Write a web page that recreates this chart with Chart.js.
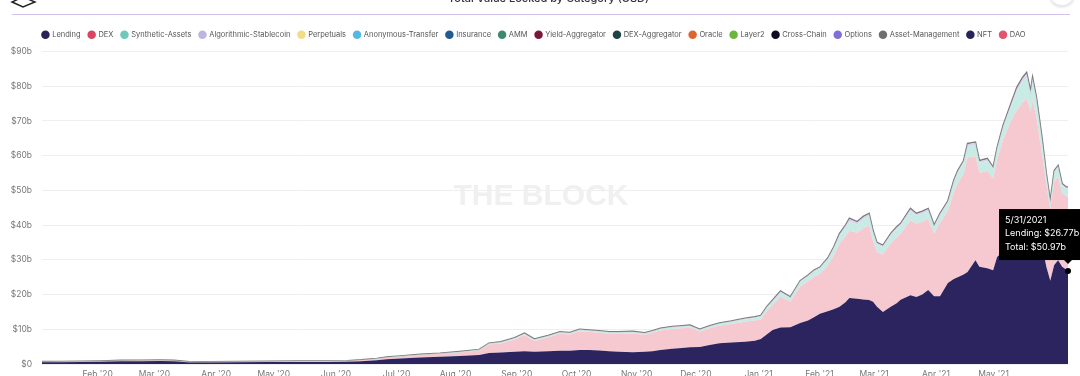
<!DOCTYPE html>
<html>
<head>
<meta charset="utf-8">
<script src="https://cdn.jsdelivr.net/npm/chart.js@4.4.0/dist/chart.umd.min.js"></script>
<style>
  html, body { margin: 0; padding: 0; background: #fff; overflow: hidden; }
  #wrap { position: relative; width: 1080px; height: 376px; overflow: hidden; }
  #chart { position: absolute; left: 0; top: 0; }
  .title { position: absolute; top: -9px; left: 0; width: 1097px; text-align: center;
           font: 500 11px Inter, sans-serif; color: #333; white-space: nowrap; }
  .rule { position: absolute; left: 12px; top: 14px; width: 1058px; height: 1px; background: #d2c2ee; }
  .logo { position: absolute; left: 0; top: 0; }
  .menu { position: absolute; left: 1049px; top: -20px; width: 24px; height: 24px; border-radius: 50%;
          background: #fff; border: 1px solid #ececec; box-shadow: 0 1px 3px rgba(0,0,0,0.15); }
</style>
</head>
<body>
<div id="wrap">
  <canvas id="chart" width="1080" height="392"></canvas>
  <div class="title">Total Value Locked by Category (USD)</div>
  <div class="rule"></div>
  <svg class="logo" width="40" height="12" viewBox="0 0 40 12">
    <polygon points="12,2 23,7 35,2 23,-3" fill="none" stroke="#222" stroke-width="1.4"/>
  </svg>
  <div class="menu"></div>
</div>
<script>
// days since 1 Jan 2020
const days = [-5,5,15,25,35,45,55,62,70,72,80,95,110,125,140,150,157,165,170,177,
  187,197,207,217,222,228,235,240,245,252,258,263,268,273,278,283,288,295,301,305,
  309,315,320,324,329,334,339,345,352,357,360,363,366,370,375,380,384,387,390,394,
  397,400,403,405,409,412,415,417,419,422,426,429,431,436,439,442,445,448,451,455,
  458,460,463,465,469,471,475,478,480,483,487,490,493,495,497,498,500,503,505,507,
  509,511,513,515,516];

// values in $b
const lending = [.52,.54,.58,.66,.78,.82,.85,.78,.45,.42,
  .45,.50,.55,.58,.60,.62,.80,1.10,1.40,1.60,
  1.90,2.10,2.30,2.60,3.20,3.30,3.50,3.70,3.50,3.70,
  3.80,3.80,4.00,4.00,3.90,3.70,3.50,3.40,3.50,3.70,
  4.00,4.40,4.60,4.80,4.90,5.50,6.00,6.20,6.40,6.70,
  7.20,8.50,9.80,10.5,10.6,11.8,12.5,13.5,14.5,15.2,
  15.8,16.5,17.8,19.0,18.8,18.6,18.4,17.9,16.5,15.0,
  16.5,17.5,18.5,19.8,19.3,20.0,21.3,19.5,19.5,23.3,
  24.5,25.0,25.8,26.5,29.9,28.0,27.6,27.0,30.8,32.5,
  35.0,37.0,38.5,40.0,42.3,41.5,40.5,33.7,28.0,24.0,
  28.5,29.9,28.0,27.2,26.77];

const dex = [.10,.10,.12,.14,.16,.17,.19,.17,.13,.12,
  .13,.14,.16,.18,.20,.22,.28,.36,.44,.52,
  .70,.78,1.04,1.30,2.42,2.63,3.58,4.60,3.15,3.95,
  4.92,4.72,5.40,5.20,5.12,5.02,5.22,5.40,4.92,5.30,
  5.66,5.70,5.68,5.64,4.44,4.78,5.00,5.32,5.78,5.80,
  5.64,6.70,7.20,8.90,7.40,10.5,11.3,11.6,11.5,13.1,
  15.4,18.1,19.0,19.4,19.0,20.5,21.5,17.5,15.7,16.6,
  18.3,19.0,19.0,21.6,21.1,21.0,20.5,18.1,21.2,20.8,
  25.0,27.0,29.0,33.0,30.0,27.0,28.0,26.4,28.0,32.0,
  35.0,36.0,36.8,36.6,30.4,34.5,30.5,26.0,23.8,20.5,
  24.0,24.0,21.2,21.1,21.47];

const synthetic = [.06,.06,.06,.08,.09,.09,.09,.08,.05,.05,
  .06,.07,.08,.08,.09,.10,.10,.12,.14,.15,
  .16,.18,.20,.22,.25,.28,.30,.32,.30,.32,
  .35,.36,.38,.38,.36,.36,.36,.38,.38,.40,
  .42,.46,.48,.52,.48,.52,.56,.62,.72,.78,
  .82,.94,1.05,1.20,1.00,1.30,1.40,1.50,1.50,1.70,
  1.90,2.30,2.40,2.60,2.40,2.60,2.70,2.40,2.20,2.00,
  2.20,2.30,2.30,2.60,2.30,2.30,2.30,1.90,2.10,2.30,
  2.70,2.90,3.00,3.20,3.20,2.90,2.90,2.60,2.90,3.40,
  4.00,5.50,6.00,6.00,5.00,5.50,4.80,3.80,2.50,2.00,
  2.60,2.70,2.30,2.20,2.23];

const algoStable = [0,0,0,0,0,0,0,0,0,0,
  0,0,0,0,0,0,0,0,0,0,
  .01,.01,.02,.03,.08,.12,.14,.18,.16,.15,
  .15,.14,.14,.14,.14,.14,.14,.14,.12,.12,
  .14,.16,.16,.16,.12,.14,.16,.18,.20,.22,
  .24,.26,.25,.28,.22,.30,.30,.30,.30,.40,
  .45,.50,.60,.70,.60,.60,.60,.50,.45,.45,
  .45,.50,.50,.60,.50,.50,.50,.35,.40,.40,
  .50,.60,.60,.60,.60,.50,.50,.50,.50,.60,
  .70,.80,.90,1.00,.70,.80,.70,.60,.40,.30,
  .40,.40,.30,.30,.30];

const assetMgmt = [.02,.02,.02,.02,.02,.02,.02,.02,.02,.01,
  .01,.01,.01,.01,.01,.01,.02,.02,.02,.03,
  .03,.03,.04,.05,.05,.07,.08,.10,.09,.08,
  .08,.08,.08,.08,.08,.08,.08,.08,.08,.08,
  .08,.08,.08,.08,.06,.06,.08,.08,.10,.10,
  .10,.10,.10,.12,.08,.10,.10,.10,.10,.10,
  .15,.20,.20,.30,.20,.20,.20,.20,.15,.15,
  .15,.20,.20,.20,.20,.20,.20,.15,.20,.20,
  .20,.20,.20,.20,.20,.20,.20,.20,.20,.20,
  .30,.40,.40,.40,.30,.30,.30,.30,.20,.20,
  .20,.20,.20,.20,.20];

const categories = ['Lending','DEX','Synthetic-Assets','Algorithmic-Stablecoin','Perpetuals',
  'Anonymous-Transfer','Insurance','AMM','Yield-Aggregator','DEX-Aggregator','Oracle','Layer2',
  'Cross-Chain','Options','Asset-Management','NFT','DAO'];

const monthLabels = ["Feb '20","Mar '20","Apr '20","May '20","Jun '20","Jul '20","Aug '20","Sep '20",
  "Oct '20","Nov '20","Dec '20","Jan '21","Feb '21","Mar '21","Apr '21","May '21"];

const DAY = 86400000;
const epoch = Date.UTC(2020, 0, 1);
const tickDays = monthLabels.map((_, i) => (Date.UTC(2020, 1 + i, 1) - epoch) / DAY);

const legendColors = ['#2a2357','#d9455f','#6fc8bc','#bdb5e0','#f3dc86','#52b9e6','#245a8e','#3b8a70',
  '#7a1838','#1f4346','#e0642d','#6bb53c','#0f0d22','#7e70d6','#707070','#28225a','#e0566c'];

const series = {
  'Lending': { data: lending, bg: '#2b245e', fill: 'origin' },
  'DEX': { data: dex, bg: '#f6c8cf', fill: '-1' },
  'Synthetic-Assets': { data: synthetic, bg: '#c8ebe5', fill: '-1' },
  'Algorithmic-Stablecoin': { data: algoStable, bg: '#d8d4ea', fill: '-1' },
  'Asset-Management': { data: assetMgmt, bg: '#bdbdc2', fill: 3, border: '#7d7d7d', bw: 1.5 }
};

const datasets = categories.map(name => {
  const s = series[name];
  if (!s) return { label: name, data: [], fill: false, borderWidth: 0, pointRadius: 0 };
  return {
    label: name,
    data: days.map((d, i) => ({ x: d, y: s.data[i] })),
    backgroundColor: s.bg,
    borderColor: s.border || s.bg,
    borderWidth: s.bw || 0,
    fill: s.fill,
    pointRadius: 0,
    tension: 0
  };
});

function fmtDate(day) {
  const d = new Date(epoch + day * DAY);
  return (d.getUTCMonth() + 1) + '/' + d.getUTCDate() + '/' + d.getUTCFullYear();
}

const legendSpacer = {
  id: 'legendSpacer',
  beforeUpdate(chart) {
    const lg = chart.legend;
    if (lg && !lg._patched) {
      const fit = lg.fit;
      lg.fit = function () { fit.call(this); this.height += 3; };
      lg._patched = true;
    }
  }
};

const watermark = {
  id: 'watermark',
  beforeDatasetsDraw(chart) {
    const ctx = chart.ctx;
    ctx.save();
    ctx.font = 'bold 30px "Liberation Sans", Arial, sans-serif';
    ctx.fillStyle = '#f0f0f0';
    ctx.textAlign = 'center';
    ctx.textBaseline = 'middle';
    ctx.fillText('THE BLOCK', 541, 197);
    ctx.restore();
  }
};

const hoverBox = {
  id: 'hoverBox',
  afterDraw(chart) {
    const ctx = chart.ctx;
    const pts = chart.getDatasetMeta(0).data;
    const p = pts[pts.length - 1];
    const i = days.length - 1;
    const total = [lending, dex, synthetic, algoStable, assetMgmt].reduce((s, a) => s + a[i], 0);
    const bx = p.x - 69, by = p.y - 62, bw = 100, bh = 51;
    ctx.save();
    ctx.fillStyle = '#000';
    ctx.fillRect(bx, by, bw, bh);
    ctx.beginPath();
    ctx.moveTo(p.x - 4, by + bh);
    ctx.lineTo(p.x, by + bh + 4);
    ctx.lineTo(p.x + 4, by + bh);
    ctx.fill();
    ctx.fillStyle = '#fff';
    ctx.font = '9px Inter, sans-serif';
    ctx.textBaseline = 'middle';
    ctx.fillText(fmtDate(days[i]), bx + 6, by + 11);
    ctx.fillText('Lending: $' + lending[i].toFixed(2) + 'b', bx + 6, by + 24.5);
    ctx.fillText('Total: $' + total.toFixed(2) + 'b', bx + 6, by + 38.5);
    ctx.beginPath();
    ctx.arc(p.x, p.y, 3, 0, Math.PI * 2);
    ctx.fillStyle = '#000';
    ctx.fill();
    ctx.restore();
  }
};

new Chart(document.getElementById('chart'), {
  type: 'line',
  data: { datasets },
  plugins: [legendSpacer, watermark, hoverBox],
  options: {
    responsive: false,
    animation: false,
    events: [],
    layout: { padding: { top: 23, right: 12, left: 0, bottom: 0 } },
    plugins: {
      legend: {
        position: 'top',
        labels: {
          usePointStyle: true,
          pointStyle: 'circle',
          boxHeight: 6,
          boxWidth: 6,
          padding: 8,
          color: '#555',
          font: { family: 'Inter', size: 7.5 },
          generateLabels(chart) {
            const items = Chart.defaults.plugins.legend.labels.generateLabels(chart);
            items.forEach(it => {
              it.fillStyle = legendColors[it.datasetIndex];
              it.strokeStyle = legendColors[it.datasetIndex];
              it.lineWidth = 0;
              it.pointStyle = 'circle';
            });
            return items;
          }
        }
      },
      tooltip: { enabled: false }
    },
    scales: {
      x: {
        type: 'linear',
        min: -5,
        max: 516,
        grid: { display: false, drawTicks: false },
        border: { display: false },
        afterBuildTicks: s => { s.ticks = tickDays.map(v => ({ value: v })); },
        afterFit: s => { s.height = 28; },
        ticks: {
          autoSkip: false,
          maxRotation: 0,
          align: 'end',
          padding: 5,
          color: '#777',
          font: { family: 'Inter', size: 8.5 },
          callback: v => monthLabels[tickDays.indexOf(v)] ?? ''
        }
      },
      y: {
        stacked: true,
        min: 0,
        max: 90,
        grid: { color: '#eeeeee', drawTicks: false },
        border: { display: false },
        afterFit: s => { s.width = 42; },
        ticks: {
          stepSize: 10,
          padding: 10,
          color: '#777',
          font: { family: 'Inter', size: 8.5 },
          callback: v => v === 0 ? '$0' : '$' + v + 'b'
        }
      }
    }
  }
});
</script>
</body>
</html>
